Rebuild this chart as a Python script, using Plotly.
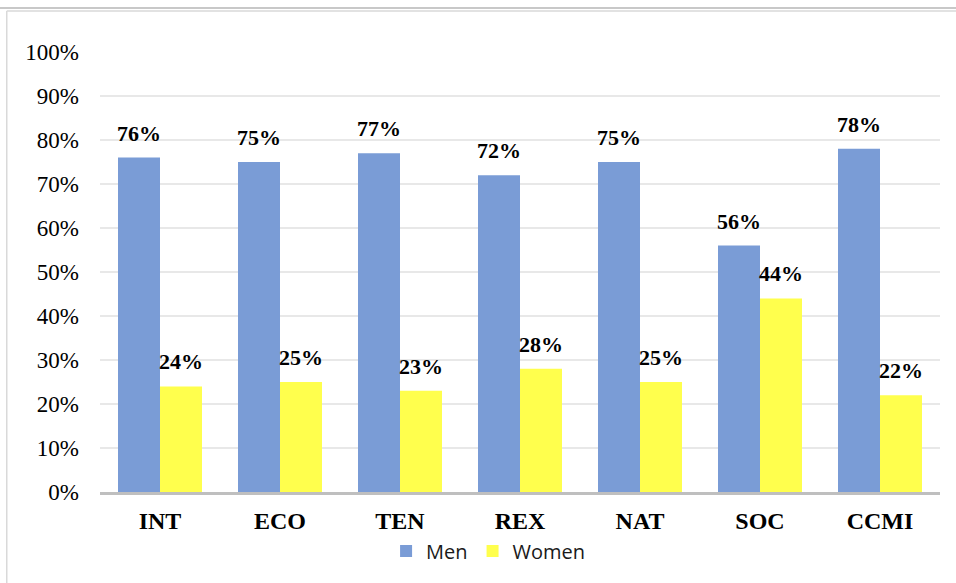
import plotly.graph_objects as go

# Share of men and women per group (percent)
categories = ["INT", "ECO", "TEN", "REX", "NAT", "SOC", "CCMI"]
men = [76, 75, 77, 72, 75, 56, 78]
women = [24, 25, 23, 28, 25, 44, 22]
y_ticks = list(range(0, 101, 10))

MEN_COLOR = "#7A9CD6"
WOMEN_COLOR = "#FFFF4D"
SERIF = "Liberation Serif, Times New Roman, serif"

fig = go.Figure()
fig.add_trace(go.Bar(name="Men", x=categories, y=men, marker_color=MEN_COLOR,
                     marker_line_width=0))
fig.add_trace(go.Bar(name="Women", x=categories, y=women, marker_color=WOMEN_COLOR,
                     marker_line_width=0))

# Value labels above each bar
annotations = []
for cat, m, w in zip(categories, men, women):
    for val, shift in ((m, -21), (w, 21)):
        annotations.append(dict(
            x=cat, y=val, xref="x", yref="y", text=f"<b>{val}%</b>",
            showarrow=False, xshift=shift, yshift=10, yanchor="bottom",
            font=dict(family=SERIF, size=22, color="#000000"),
        ))

# Outer frame and top rule
shapes = [
    dict(type="line", xref="paper", yref="paper", x0=-0.12, x1=1.03,
         y0=1.1, y1=1.1, line=dict(color="#c8c8c8", width=2)),
    dict(type="line", xref="paper", yref="paper", x0=-0.111, x1=1.03,
         y0=1.093, y1=1.093, line=dict(color="#d9d9d9", width=1.5)),
    dict(type="line", xref="paper", yref="paper", x0=-0.111, x1=-0.111,
         y0=1.093, y1=-0.25, line=dict(color="#d9d9d9", width=1.5)),
]

fig.update_layout(
    width=956, height=583,
    margin=dict(l=100, r=16, t=52, b=91),
    paper_bgcolor="white", plot_bgcolor="white",
    barmode="group", bargap=0.3, bargroupgap=0,
    showlegend=True,
    legend=dict(orientation="h", x=0.462, xanchor="center", y=-0.134,
                yanchor="middle", bgcolor="rgba(0,0,0,0)",
                font=dict(family="Open Sans", size=20, color="#1a1a1a"),
                itemwidth=30, traceorder="normal"),
    annotations=annotations,
    shapes=shapes,
    xaxis=dict(
        showline=True, linecolor="#bfbfbf", linewidth=3,
        tickfont=dict(family=SERIF, size=24, color="#000000", weight="bold"),
        ticks="", ticklabelstandoff=5, showgrid=False,
    ),
    yaxis=dict(
        range=[0, 100], tickvals=y_ticks, ticktext=[f"{t}%" for t in y_ticks],
        showgrid=True, gridcolor="#e8e8e8", gridwidth=1.5,
        zeroline=False, showline=False, ticks="",
        ticklabelstandoff=20,
        tickfont=dict(family=SERIF, size=23, color="#000000"),
    ),
)

fig.write_html("out.html")
